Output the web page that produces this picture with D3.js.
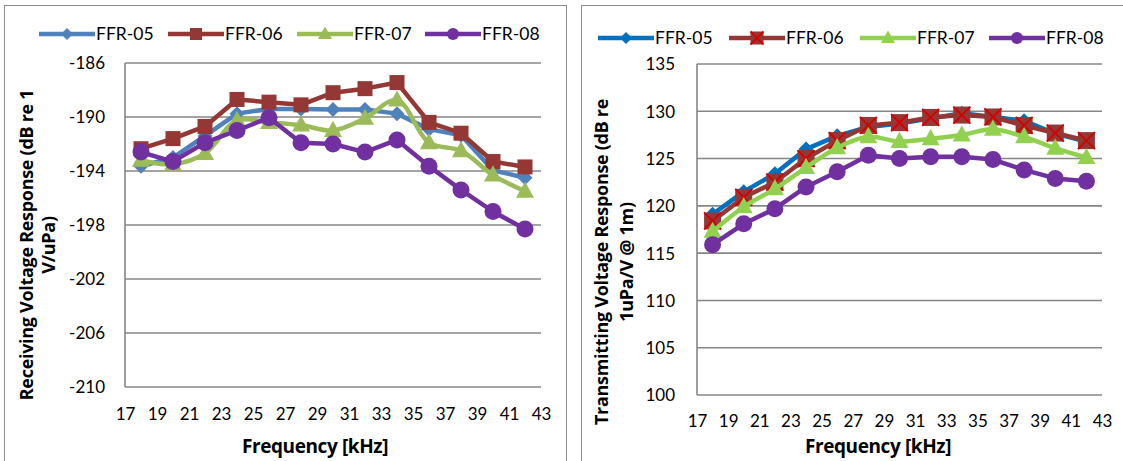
<!DOCTYPE html>
<html>
<head>
<meta charset="utf-8">
<script src="https://d3js.org/d3.v7.min.js"></script>
<style>
  html, body { margin: 0; padding: 0; background: #fff; }
  svg { display: block; }
  text { fill: #000; }
</style>
</head>
<body>
<svg id="chart" width="1123" height="461"></svg>
<script>
// Frequencies measured (kHz)
const frequencies = [18, 20, 22, 24, 26, 28, 30, 32, 34, 36, 38, 40, 42];
const seriesNames = ["FFR-05", "FFR-06", "FFR-07", "FFR-08"];
const xTicks = [17, 19, 21, 23, 25, 27, 29, 31, 33, 35, 37, 39, 41, 43];

// Receiving voltage response (dB re 1 V/uPa)
const rvr05 = [-193.65, -193.0, -191.4, -189.75, -189.4, -189.4, -189.45, -189.45, -189.75, -190.9, -191.35, -193.95, -194.5];
const rvr06 = [-192.35, -191.6, -190.7, -188.7, -188.9, -189.1, -188.2, -187.9, -187.45, -190.4, -191.2, -193.3, -193.7];
const rvr07 = [-193.2, -193.5, -192.7, -190.25, -190.4, -190.6, -191.0, -190.1, -188.75, -191.9, -192.5, -194.3, -195.5];
const rvr08 = [-192.6, -193.3, -191.9, -191.0, -190.05, -191.9, -192.0, -192.6, -191.7, -193.65, -195.4, -197.0, -198.3];
const rvrTicks = [-186, -190, -194, -198, -202, -206, -210];

// Transmitting voltage response (dB re 1uPa/V @ 1m)
const tvr05 = [119.1, 121.5, 123.4, 126.0, 127.4, 128.35, 128.7, 129.25, 129.8, 129.4, 129.0, 127.65, 126.8];
const tvr06 = [118.4, 120.9, 122.5, 125.0, 126.9, 128.5, 128.8, 129.35, 129.6, 129.4, 128.5, 127.7, 126.9];
const tvr07 = [117.3, 119.9, 121.8, 124.05, 126.15, 127.3, 126.8, 127.1, 127.5, 128.1, 127.3, 126.1, 125.1];
const tvr08 = [115.9, 118.1, 119.7, 122.0, 123.6, 125.35, 125.0, 125.2, 125.2, 124.9, 123.8, 122.9, 122.6];
const tvrTicks = [135, 130, 125, 120, 115, 110, 105, 100];

const svg = d3.select("#chart");
const GRID = "#868686";
const BODY_FONT = "Lato, 'Open Sans', sans-serif";
const TITLE_FONT = "'Open Sans', Lato, sans-serif";

function marker(g, type, x, y, size, color) {
  if (type === "diamond") {
    const s = size / 2;
    g.append("path").attr("d", `M${x},${y - s}L${x + s},${y}L${x},${y + s}L${x - s},${y}Z`).attr("fill", color);
  } else if (type === "square") {
    g.append("rect").attr("x", x - size / 2).attr("y", y - size / 2).attr("width", size).attr("height", size).attr("fill", color);
  } else if (type === "squareX") {
    g.append("rect").attr("x", x - size / 2).attr("y", y - size / 2).attr("width", size).attr("height", size).attr("fill", color);
    const s = size / 2;
    g.append("path").attr("d", `M${x - s},${y - s}L${x + s},${y + s}M${x - s},${y + s}L${x + s},${y - s}`)
      .attr("stroke", "#D40000").attr("stroke-width", 1.8).attr("fill", "none");
  } else if (type === "triangle") {
    const h = size * 0.9, w = size;
    g.append("path").attr("d", `M${x},${y - h * 0.6}L${x + w / 2},${y + h * 0.4}L${x - w / 2},${y + h * 0.4}Z`).attr("fill", color);
  } else if (type === "circle") {
    g.append("circle").attr("cx", x).attr("cy", y).attr("r", size / 2).attr("fill", color);
  }
}

function drawChart(cfg) {
  const g = svg.append("g");
  // panel frame
  g.append("rect").attr("x", cfg.frame[0] + 0.5).attr("y", cfg.frame[1] + 0.5)
    .attr("width", cfg.frame[2]).attr("height", cfg.frame[3])
    .attr("fill", "#fff").attr("stroke", "#8c8c8c").attr("stroke-width", 1);

  const x = d3.scaleLinear().domain([17, 43]).range([cfg.left, cfg.right]);
  const y = d3.scaleLinear().domain(cfg.yDomain).range([cfg.bottom, cfg.top]);

  // horizontal gridlines
  g.append("g").selectAll("line").data(cfg.yTicks).join("line")
    .attr("x1", cfg.left).attr("x2", cfg.right)
    .attr("y1", d => y(d)).attr("y2", d => y(d))
    .attr("stroke", GRID).attr("stroke-width", 1.6);
  // vertical axis line
  g.append("line").attr("x1", cfg.left).attr("x2", cfg.left)
    .attr("y1", cfg.top).attr("y2", cfg.bottom).attr("stroke", GRID).attr("stroke-width", 1.6);

  // y axis tick labels (plain hyphen for negatives)
  const yAxis = d3.axisLeft(y).tickValues(cfg.yTicks).tickFormat(d => String(d))
    .tickSize(0).tickPadding(cfg.left - cfg.yLabelEnd);
  const ya = g.append("g").attr("transform", `translate(${cfg.left},0)`).call(yAxis);
  ya.select(".domain").remove();
  ya.selectAll("text").style("font-size", "17px").style("font-family", BODY_FONT).attr("dy", "0.35em");

  // x axis tick labels
  const xAxis = d3.axisBottom(x).tickValues(xTicks).tickFormat(d => String(d))
    .tickSize(0).tickPadding(cfg.xLabelY - cfg.bottom);
  const xa = g.append("g").attr("transform", `translate(0,${cfg.bottom})`).call(xAxis);
  xa.select(".domain").remove();
  xa.selectAll("text").style("font-size", "17px").style("font-family", BODY_FONT)
    .attr("dy", "0.35em").attr("y", cfg.xLabelY - cfg.bottom);

  // axis titles
  g.append("text").attr("x", cfg.xTitleX).attr("y", 446).attr("dy", "0.35em")
    .attr("text-anchor", "middle")
    .style("font-family", TITLE_FONT).style("font-weight", "bold").style("font-size", "19px")
    .style("letter-spacing", "-0.4px")
    .text("Frequency [kHz]");
  cfg.yTitle.forEach((line, i) => {
    g.append("text")
      .attr("transform", `translate(${cfg.yTitleX[i]},${cfg.yTitleY}) rotate(-90)`)
      .attr("dy", "0.35em").attr("text-anchor", "middle")
      .style("font-family", TITLE_FONT).style("font-weight", "bold").style("font-size", "18px")
      .style("letter-spacing", "-0.3px")
      .text(line);
  });

  // series
  cfg.series.forEach(s => {
    const pts = frequencies.map((f, i) => [x(f), y(s.values[i])]);
    const line = d3.line().curve(s.smooth ? d3.curveCatmullRom.alpha(0.5) : d3.curveLinear);
    g.append("path").attr("d", line(pts)).attr("fill", "none")
      .attr("stroke", s.color).attr("stroke-width", 4.5).attr("stroke-linejoin", "round");
    const mg = g.append("g");
    pts.forEach(p => marker(mg, s.marker, p[0], p[1], s.size, s.color));
  });

  // legend
  cfg.series.forEach((s, i) => {
    const lx = cfg.legendX[i];
    const ly = cfg.legendY;
    g.append("line").attr("x1", lx).attr("x2", lx + 56).attr("y1", ly).attr("y2", ly)
      .attr("stroke", s.color).attr("stroke-width", 4.5);
    marker(g, s.marker, lx + 28, ly, s.legendSize, s.color);
    g.append("text").attr("x", lx + 57).attr("y", ly).attr("dy", "0.35em")
      .style("font-family", BODY_FONT).style("font-size", "17.5px").text(s.name);
  });
}

drawChart({
  frame: [4, 5, 562, 470],
  left: 125, right: 541, top: 63, bottom: 387,
  yDomain: [-210, -186], yTicks: rvrTicks, yLabelEnd: 105, xLabelY: 414,
  xTitleX: 315,
  yTitle: ["Receiving Voltage Response (dB re 1", "V/uPa)"],
  yTitleX: [27, 49], yTitleY: 245,
  legendX: [39, 168, 297, 425], legendY: 34,
  series: [
    { name: seriesNames[0], values: rvr05, color: "#4F81BD", marker: "diamond", size: 15, legendSize: 12 },
    { name: seriesNames[1], values: rvr06, color: "#953735", marker: "square", size: 15, legendSize: 12 },
    { name: seriesNames[2], values: rvr07, color: "#9BBB59", marker: "triangle", size: 18, legendSize: 14, smooth: true },
    { name: seriesNames[3], values: rvr08, color: "#7030A0", marker: "circle", size: 17, legendSize: 12 }
  ]
});

drawChart({
  frame: [581, 5, 560, 470],
  left: 697, right: 1102, top: 64, bottom: 395,
  yDomain: [100, 135], yTicks: tvrTicks, yLabelEnd: 675, xLabelY: 421,
  xTitleX: 878,
  yTitle: ["Transmitting Voltage Response (dB re", "1uPa/V @ 1m)"],
  yTitleX: [602, 627], yTitleY: 262,
  legendX: [598, 729, 860, 989], legendY: 38,
  series: [
    { name: seriesNames[0], values: tvr05, color: "#0070C0", marker: "diamond", size: 15, legendSize: 12 },
    { name: seriesNames[1], values: tvr06, color: "#953735", marker: "squareX", size: 17, legendSize: 13 },
    { name: seriesNames[2], values: tvr07, color: "#92D050", marker: "triangle", size: 18, legendSize: 14, smooth: true },
    { name: seriesNames[3], values: tvr08, color: "#7030A0", marker: "circle", size: 17, legendSize: 12 }
  ]
});
</script>
</body>
</html>
